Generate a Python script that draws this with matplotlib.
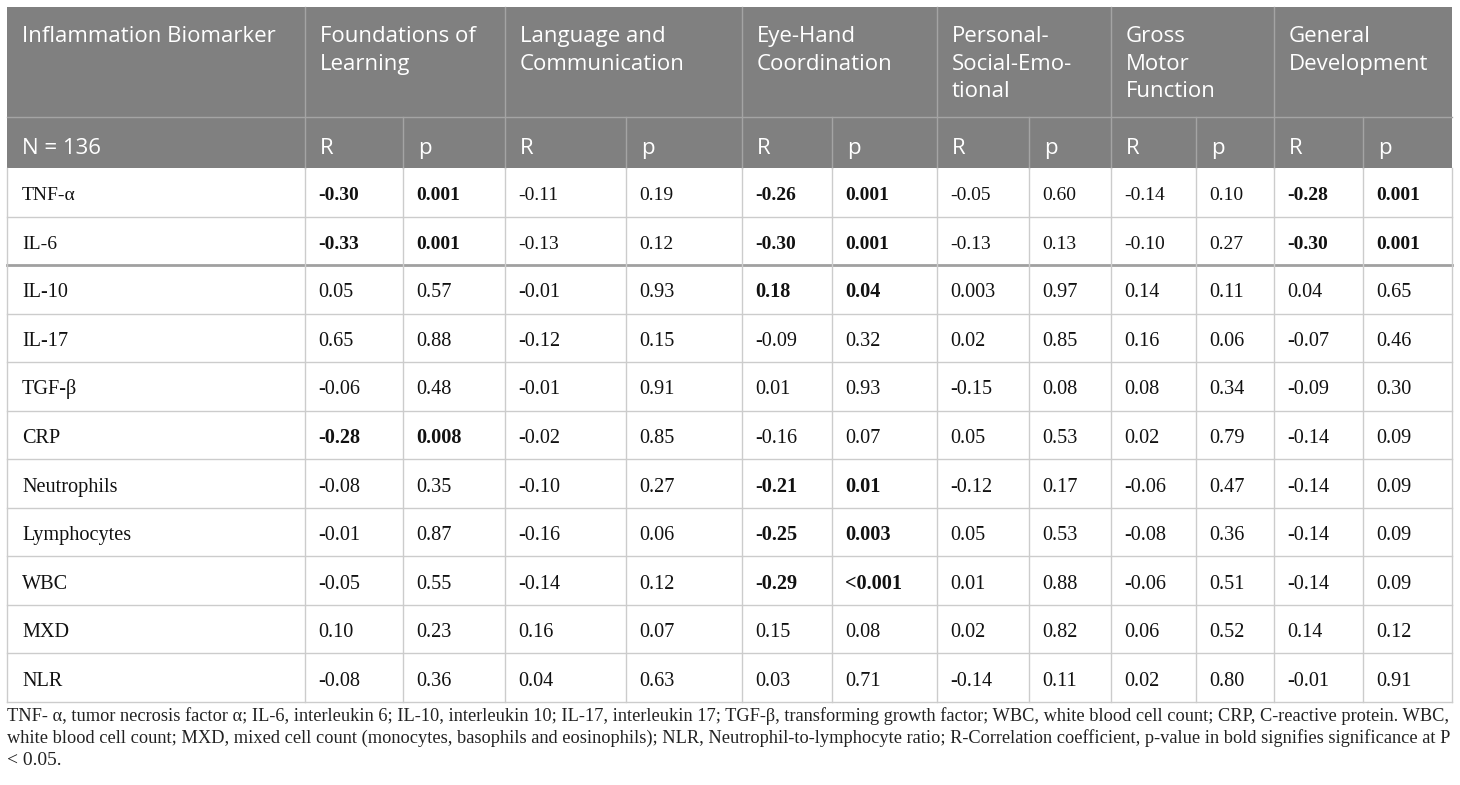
import matplotlib
matplotlib.use("Agg")
import matplotlib.pyplot as plt
from matplotlib.patches import Rectangle

# ---- data ----
biomarkers = ["TNF-\u03b1", "IL-6", "IL-10", "IL-17", "TGF-\u03b2", "CRP",
              "Neutrophils", "Lymphocytes", "WBC", "MXD", "NLR"]
domains = ["Foundations of\nLearning", "Language and\nCommunication",
           "Eye-Hand\nCoordination", "Personal-\nSocial-Emo-\ntional",
           "Gross\nMotor\nFunction", "General\nDevelopment"]
first_header = "Inflammation Biomarker"
n_label = "N = 136"

foundations_r = ["-0.30", "-0.33", "0.05", "0.65", "-0.06", "-0.28", "-0.08", "-0.01", "-0.05", "0.10", "-0.08"]
foundations_p = ["0.001", "0.001", "0.57", "0.88", "0.48", "0.008", "0.35", "0.87", "0.55", "0.23", "0.36"]
language_r = ["-0.11", "-0.13", "-0.01", "-0.12", "-0.01", "-0.02", "-0.10", "-0.16", "-0.14", "0.16", "0.04"]
language_p = ["0.19", "0.12", "0.93", "0.15", "0.91", "0.85", "0.27", "0.06", "0.12", "0.07", "0.63"]
eyehand_r = ["-0.26", "-0.30", "0.18", "-0.09", "0.01", "-0.16", "-0.21", "-0.25", "-0.29", "0.15", "0.03"]
eyehand_p = ["0.001", "0.001", "0.04", "0.32", "0.93", "0.07", "0.01", "0.003", "<0.001", "0.08", "0.71"]
personal_r = ["-0.05", "-0.13", "0.003", "0.02", "-0.15", "0.05", "-0.12", "0.05", "0.01", "0.02", "-0.14"]
personal_p = ["0.60", "0.13", "0.97", "0.85", "0.08", "0.53", "0.17", "0.53", "0.88", "0.82", "0.11"]
gross_r = ["-0.14", "-0.10", "0.14", "0.16", "0.08", "0.02", "-0.06", "-0.08", "-0.06", "0.06", "0.02"]
gross_p = ["0.10", "0.27", "0.11", "0.06", "0.34", "0.79", "0.47", "0.36", "0.51", "0.52", "0.80"]
general_r = ["-0.28", "-0.30", "0.04", "-0.07", "-0.09", "-0.14", "-0.14", "-0.14", "-0.14", "0.14", "-0.01"]
general_p = ["0.001", "0.001", "0.65", "0.46", "0.30", "0.09", "0.09", "0.09", "0.09", "0.12", "0.91"]

footnote = [
    "TNF- \u03b1, tumor necrosis factor \u03b1; IL-6, interleukin 6; IL-10, interleukin 10; IL-17, interleukin 17; "
    "TGF-\u03b2, transforming growth factor; WBC, white blood cell count; CRP, C-reactive protein. WBC,",
    "white blood cell count; MXD, mixed cell count (monocytes, basophils and eosinophils); NLR, "
    "Neutrophil-to-lymphocyte ratio; R-Correlation coefficient, p-value in bold signifies significance at P",
    "< 0.05.",
]

pairs = [(foundations_r, foundations_p), (language_r, language_p), (eyehand_r, eyehand_p),
         (personal_r, personal_p), (gross_r, gross_p), (general_r, general_p)]

# ---- layout (pixels) ----
W, H = 1460, 785
col_x = [7, 305, 403, 505, 626, 742, 832, 937, 1029, 1111, 1196, 1274, 1363, 1452]
top, h1, h2, bottom = 7, 117, 168, 702
row_h = (bottom - h2) / len(biomarkers)
pad = 15

head_bg = "#808080"
grid = "#cccccc"
sep = "#a4a4a4"

fig = plt.figure(figsize=(W / 100, H / 100), dpi=100)
ax = fig.add_axes([0, 0, 1, 1])
ax.set_xlim(0, W)
ax.set_ylim(H, 0)
ax.axis("off")

ax.add_patch(Rectangle((col_x[0], top), col_x[-1] - col_x[0], h2 - top, color=head_bg, lw=0))

hfont = dict(family="Open Sans", fontsize=16, color="white")

# header row 1
ax.text(col_x[0] + pad, top + 19, first_header, va="top", ha="left", linespacing=1.41, **hfont)
for i, d in enumerate(domains):
    ax.text(col_x[1 + 2 * i] + pad, top + 19, d, va="top", ha="left", linespacing=1.41, **hfont)
# header row 2
ax.text(col_x[0] + pad, 154, n_label, va="baseline", ha="left", **hfont)
for i in range(len(domains)):
    ax.text(col_x[1 + 2 * i] + pad, 154, "R", va="baseline", ha="left", **hfont)
    ax.text(col_x[2 + 2 * i] + pad, 154, "p", va="baseline", ha="left", **hfont)

# header separators
ax.plot([col_x[0], col_x[-1]], [h1, h1], color=sep, lw=1)
for i in range(1, len(col_x) - 1):
    y0 = top if i % 2 == 1 else h1
    ax.plot([col_x[i], col_x[i]], [y0, h2], color=sep, lw=1)

# body
for r, name in enumerate(biomarkers):
    yb = h2 + (r + 0.5) * row_h + 8
    fs = 14 if r < 2 else 14.6
    dfont = dict(family="Liberation Serif", fontsize=fs, color="#111111")
    ax.text(col_x[0] + pad, yb, name, va="baseline", ha="left", **dfont)
    for i, (rv, pv) in enumerate(pairs):
        sig = float(pv[r].lstrip("<")) < 0.05
        fw = "bold" if sig else "normal"
        ax.text(col_x[1 + 2 * i] + pad - 2, yb, rv[r], va="baseline", ha="left", fontweight=fw, **dfont)
        ax.text(col_x[2 + 2 * i] + pad - 2, yb, pv[r], va="baseline", ha="left", fontweight=fw, **dfont)

for r in range(1, len(biomarkers) + 1):
    y = h2 + r * row_h
    if r == 2:
        ax.plot([col_x[0], col_x[-1]], [y, y], color="#a0a0a0", lw=2)
    else:
        ax.plot([col_x[0], col_x[-1]], [y, y], color=grid, lw=1)
for x in col_x:
    ax.plot([x, x], [h2, bottom], color=grid, lw=1)

# footnote: full lines sized to span the table width
fig.canvas.draw()
renderer = fig.canvas.get_renderer()
base = 14.0
target = col_x[-1] - col_x[0]
for li, line in enumerate(footnote):
    y = 721 + li * 22
    t = ax.text(col_x[0], y, line, va="baseline", ha="left",
                family="Liberation Serif", fontsize=base, color="#222222")
    if li < len(footnote) - 1:
        w = t.get_window_extent(renderer).width
        t.set_fontsize(base * target / w)

fig.savefig("out.png", dpi=100)
